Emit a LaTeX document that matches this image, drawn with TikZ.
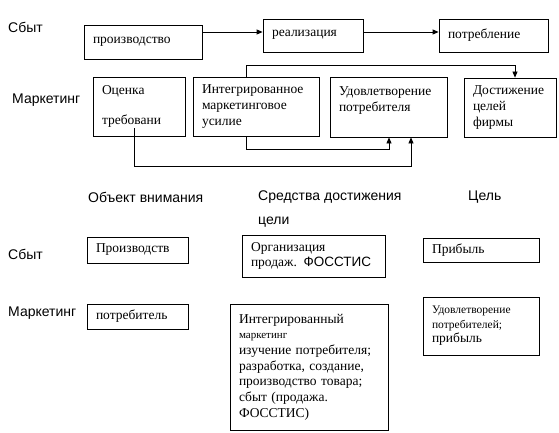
\documentclass[tikz,border=0pt]{standalone}
\usepackage{fontspec}
\setmainfont{Liberation Serif}
\newfontfamily\lsans{Liberation Sans}
\usetikzlibrary{arrows.meta,calc}
\begin{document}
\begin{tikzpicture}[x=1pt,y=-1pt,
  box/.style={draw, line width=0.8pt, inner xsep=9pt, inner ysep=2pt, align=left,
    font=\fontsize{13.5}{16}\selectfont},
  lab/.style={font=\lsans\fontsize{14}{16}\selectfont, anchor=west, inner sep=0pt},
  arr/.style={-{Triangle[length=6pt,width=5pt]}, line width=0.8pt},
  ln/.style={line width=0.8pt}]
\useasboundingbox (0,0) rectangle (559,433);

% labels
\node[lab] (s1) at (8,27.5) {Сбыт};
\node[lab] (m1) at (12,100) {Маркетинг};
\node[lab] (h1) at (88,197) {Объект внимания};
\node[lab] (h2) at (258,197) {Средства достижения};
\node[lab] (h2b) at (258,222) {цели};
\node[lab] (h3) at (468,197) {Цель};
\node[lab] (s2) at (8,254) {Сбыт};
\node[lab] (m2) at (8,313) {Маркетинг};

% top boxes
\node[box, minimum width=118pt, minimum height=34pt, text width=100pt] (prod) at (143,42) {\raisebox{4pt}{производство}};
\node[box, minimum width=100pt, minimum height=33pt, text width=82pt] (real) at (313,35.5) {\raisebox{3.5pt}{реализация}};
\node[box, minimum width=109pt, minimum height=33pt, text width=91pt] (potr) at (493.5,35.5) {\raisebox{3.5pt}{потребление}};
\node[box, minimum width=92pt, minimum height=59pt, text width=74pt] (ocen) at (139,106.5) {Оценка\\[14pt]требовани};
\node[box, minimum width=126pt, minimum height=59pt, text width=108pt] (integ) at (256,106.5) {Интегрированное\\маркетинговое\\усилие};
\node[box, minimum width=117pt, minimum height=60pt, text width=99pt] (udov) at (388.5,107) {Удовлетворение\\потребителя\\\mbox{}};
\node[box, minimum width=92pt, minimum height=59pt, text width=74pt] (dost) at (510,107.5) {Достижение\\целей\\фирмы};

% bottom boxes
\node[box, minimum width=101pt, minimum height=26pt, text width=83pt] (proizv) at (137.5,250) {Производств};
\node[box, minimum width=143pt, minimum height=42pt, text width=125pt, font=\fontsize{13.5}{15}\selectfont] (org) at (313.5,256) {Организация\\продаж. {\lsans ФОССТИС}};
\node[box, minimum width=116pt, minimum height=24pt, text width=98pt] (prib) at (481,250) {Прибыль};
\node[box, minimum width=101pt, minimum height=25pt, text width=83pt] (potreb) at (137.5,316.5) {потребитель};
\node[box, minimum width=158pt, minimum height=126pt, text width=140pt, font=\fontsize{13.5}{15.7}\selectfont] (bigint) at (309,367) {Интегрированный\\{\fontsize{11}{12}\selectfont маркетинг}\\\mbox{изучение потребителя;}\\\mbox{разработка, создание,}\\\mbox{производство товара;}\\\mbox{сбыт (продажа.}\\ФОССТИС)};
\node[box, minimum width=116pt, minimum height=58pt, text width=98pt, font=\fontsize{11.5}{14.5}\selectfont] (udov2) at (481,326) {Удовлетворение\\потребителей;\\{\fontsize{13.5}{14.5}\selectfont прибыль}};

% connector helpers
\coordinate (ya) at (0,32);
\coordinate (c1) at (246,65);
\coordinate (c2) at (515,65);
\coordinate (c3) at (246,149);
\coordinate (c4) at (389,149);
\coordinate (o1) at (134,128);
\coordinate (o2) at (134,166);
\coordinate (o3) at (411,166);

\draw[arr] (prod.east |- ya) -- (real.west |- ya);
\draw[arr] (real.east |- ya) -- (potr.west |- ya);
\draw[arr] (integ.north -| c1) -- (c1) -- (c2) -- (dost.north -| c2);
\draw[arr] (integ.south -| c3) -- (c3) -- (c4) -- (udov.south -| c4);
\draw[arr] (o1) -- (o2) -- (o3) -- (udov.south -| o3);
\end{tikzpicture}
\end{document}
